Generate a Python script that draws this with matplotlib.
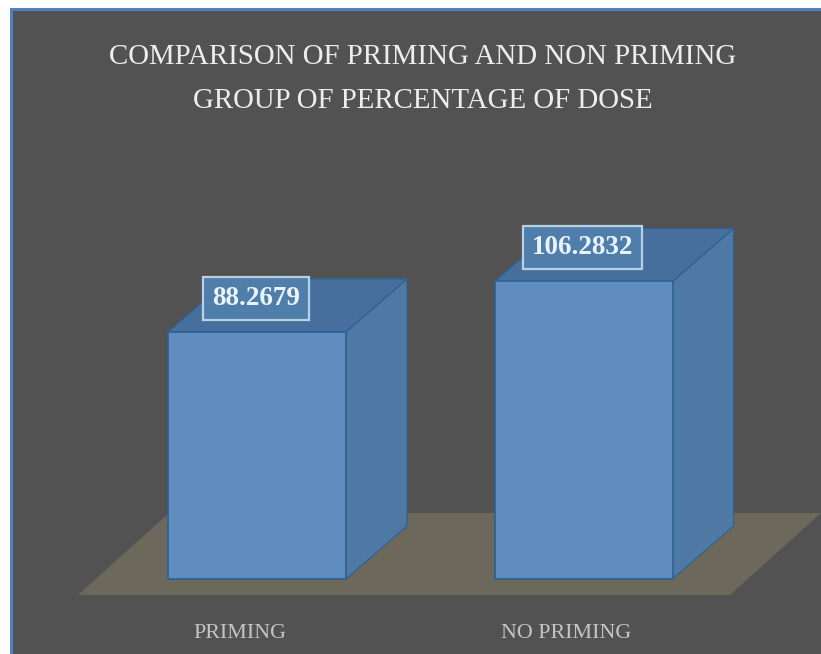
import matplotlib
matplotlib.use("Agg")
import matplotlib.pyplot as plt
from matplotlib.patches import Polygon, Rectangle

categories = ["PRIMING", "NO PRIMING"]
values = [88.2679, 106.2832]
value_labels = ["88.2679", "106.2832"]
title = "COMPARISON OF PRIMING AND NON PRIMING\nGROUP OF PERCENTAGE OF DOSE"

W, H = 821, 654
PX_PER_CAT = 326.5
PX_PER_VAL = 2.8
X0_PX, Y0_PX = 257.0, 579.0
BAR_W = 178 / PX_PER_CAT
DX = 61 / PX_PER_CAT
DY = 53 / PX_PER_VAL

BG = "#525252"
FLOOR = "#6d685c"
FRONT = "#5f8dc0"
SIDE = "#4f79a5"
TOP = "#466f9d"
EDGE = "#2f5f92"
SERIF = ["Liberation Serif", "DejaVu Serif"]

fig = plt.figure(figsize=(W / 100, H / 100), dpi=100, facecolor="white")

# Chart panel and its blue frame, in figure fractions
fig.patches.append(Rectangle((10.5 / W, -0.01), 1.02 - 10.5 / W, 0.01 + (H - 8.5) / H, transform=fig.transFigure,
                             facecolor=BG, edgecolor="#4f81bd", linewidth=2.2, zorder=-1))

ax = fig.add_axes([0, 0, 1, 1], facecolor="none")
ax.set_xlim((0 - X0_PX) / PX_PER_CAT, (W - X0_PX) / PX_PER_CAT)
ax.set_ylim((Y0_PX - H) / PX_PER_VAL, Y0_PX / PX_PER_VAL)
ax.axis("off")

# Floor plane, spanning the category axis
fl, fr = -179 / PX_PER_CAT, 473 / PX_PER_CAT
base = -16 / PX_PER_VAL
skew, rise = 91 / PX_PER_CAT, 82 / PX_PER_VAL
ax.add_patch(Polygon([(fl, base), (fr, base), (fr + skew, base + rise), (fl + skew, base + rise)],
                     closed=True, facecolor=FLOOR, edgecolor="none", zorder=1))

for i, (v, lab, cat) in enumerate(zip(values, value_labels, categories)):
    l, r = i - BAR_W / 2, i + BAR_W / 2
    ax.add_patch(Polygon([(r, 0), (r + DX, DY), (r + DX, v + DY), (r, v)], closed=True,
                         facecolor=SIDE, edgecolor=EDGE, linewidth=0.8, zorder=2))
    ax.add_patch(Polygon([(l, v), (r, v), (r + DX, v + DY), (l + DX, v + DY)], closed=True,
                         facecolor=TOP, edgecolor=EDGE, linewidth=0.8, zorder=2))
    ax.add_patch(Rectangle((l, 0), BAR_W, v, facecolor=FRONT, edgecolor=EDGE, linewidth=1.2, zorder=3))
    ax.text(i - 0.004, v + 12.0, lab, ha="center", va="center", family=SERIF, fontsize=19.5,
            fontweight="bold", color="#eaf3fb", zorder=5,
            bbox=dict(boxstyle="square,pad=0.33", facecolor="#4f7eab", edgecolor="#b9cfe2", linewidth=1.6))
    ax.text(i - 0.052, -16, cat, ha="center", va="top", family=SERIF,
            fontsize=15.8, color="#c4c4c4", zorder=5)

fig.text(423 / W, 1 - 79 / H, title, ha="center", va="center", family=SERIF, fontsize=20.8,
         color="#ededed", linespacing=1.85)

fig.savefig("out.png", dpi=100, facecolor="white")
